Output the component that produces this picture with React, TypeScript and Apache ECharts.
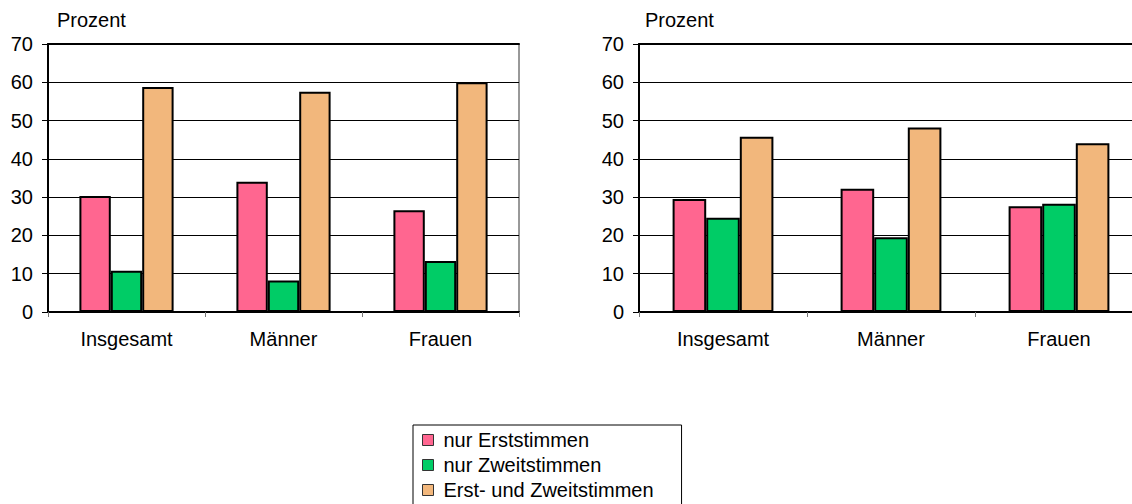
import React, { useEffect, useRef } from "react";
import * as echarts from "echarts";

const categories = ["Insgesamt", "Männer", "Frauen"];
const seriesNames = ["nur Erststimmen", "nur Zweitstimmen", "Erst- und Zweitstimmen"];
const colors = ["#FF6690", "#00CC66", "#F2B77C"];

const leftErst = [30.3, 34.0, 26.6];
const leftZweit = [10.8, 8.2, 13.3];
const leftBeide = [58.8, 57.5, 60.0];

const rightErst = [29.5, 32.2, 27.6];
const rightZweit = [24.6, 19.5, 28.3];
const rightBeide = [45.8, 48.2, 44.1];

const yTicks = [0, 10, 20, 30, 40, 50, 60, 70];

const FONT = "'Liberation Sans', Arial, sans-serif";
const FS = 20;

export default function App() {
  const ref = useRef<HTMLDivElement>(null);
  useEffect(() => {
    if (!ref.current) return;
    const chart = echarts.init(ref.current, null, { renderer: "svg" });
    const grids = [
      { left: 48, top: 44, width: 471, height: 268 },
      { left: 639, top: 44, width: 504, height: 268 },
    ];
    const makeX = (gi: number, pos: "bottom" | "top") => ({
      type: "category",
      gridIndex: gi,
      position: pos,
      data: categories,
      axisLine: { show: true, lineStyle: { color: "#000", width: 2 } },
      axisTick: pos === "bottom" ? { show: true, length: 5, lineStyle: { color: "#777", width: 1 } } : { show: false },
      axisLabel: pos === "bottom"
        ? { show: true, margin: 17, color: "#000", fontSize: FS, fontFamily: FONT }
        : { show: false },
      splitLine: { show: false },
    });
    const makeY = (gi: number, margin: number) => ({
      type: "value",
      gridIndex: gi,
      min: yTicks[0],
      max: yTicks[yTicks.length - 1],
      interval: 10,
      axisLine: { show: true, lineStyle: { color: "#000", width: 2 } },
      axisTick: { show: true, length: 6, lineStyle: { color: "#000", width: 1 } },
      axisLabel: { margin, color: "#000", fontSize: FS, fontFamily: FONT },
      splitLine: { show: true, lineStyle: { color: "#000", width: 1 } },
    });
    const mkSeries = (name: string, data: number[], color: string, xi: number, yi: number) => ({
      type: "bar",
      name,
      data,
      xAxisIndex: xi,
      yAxisIndex: yi,
      barGap: "0%",
      barCategoryGap: "40%",
      itemStyle: { color, borderColor: "#000", borderWidth: 2 },
    });
    const leftData = [leftErst, leftZweit, leftBeide];
    const rightData = [rightErst, rightZweit, rightBeide];
    const series: any[] = [];
    seriesNames.forEach((n, i) => series.push(mkSeries(n, leftData[i], colors[i], 0, 0)));
    seriesNames.forEach((n, i) => series.push(mkSeries(n, rightData[i], colors[i], 2, 1)));

    chart.setOption({
      animation: false,
      textStyle: { fontFamily: FONT },
      grid: grids.map((g) => ({ ...g, show: true, borderColor: "#333", borderWidth: 1, backgroundColor: "transparent" })),
      xAxis: [makeX(0, "bottom"), makeX(0, "top"), makeX(1, "bottom"), makeX(1, "top")],
      yAxis: [makeY(0, 15), makeY(1, 15)],
      series,
      legend: {
        orient: "vertical",
        left: 413,
        top: 425,
        data: seriesNames,
        itemWidth: 11,
        itemHeight: 11,
        itemGap: 3,
        padding: [4, 28, 14, 9],
        borderColor: "#000",
        borderWidth: 1,
        borderRadius: 0,
        icon: "rect",
        selectedMode: false,
        itemStyle: { borderColor: "#333", borderWidth: 1 },
        textStyle: { color: "#000", fontSize: FS, fontFamily: FONT, lineHeight: 22, padding: [0, 0, 0, 5] },
      },
      graphic: [
        { type: "text", left: 57, top: 10, style: { text: "Prozent", fontSize: FS, fontFamily: FONT, fill: "#000" } },
        { type: "text", left: 645, top: 10, style: { text: "Prozent", fontSize: FS, fontFamily: FONT, fill: "#000" } },
      ],
    });
    return () => chart.dispose();
  }, []);
  return (
    <div style={{ position: "absolute", left: 0, top: 0, width: 1132, height: 504, overflow: "hidden", background: "#fff" }}>
      <div ref={ref} style={{ width: 1180, height: 560 }} />
    </div>
  );
}
